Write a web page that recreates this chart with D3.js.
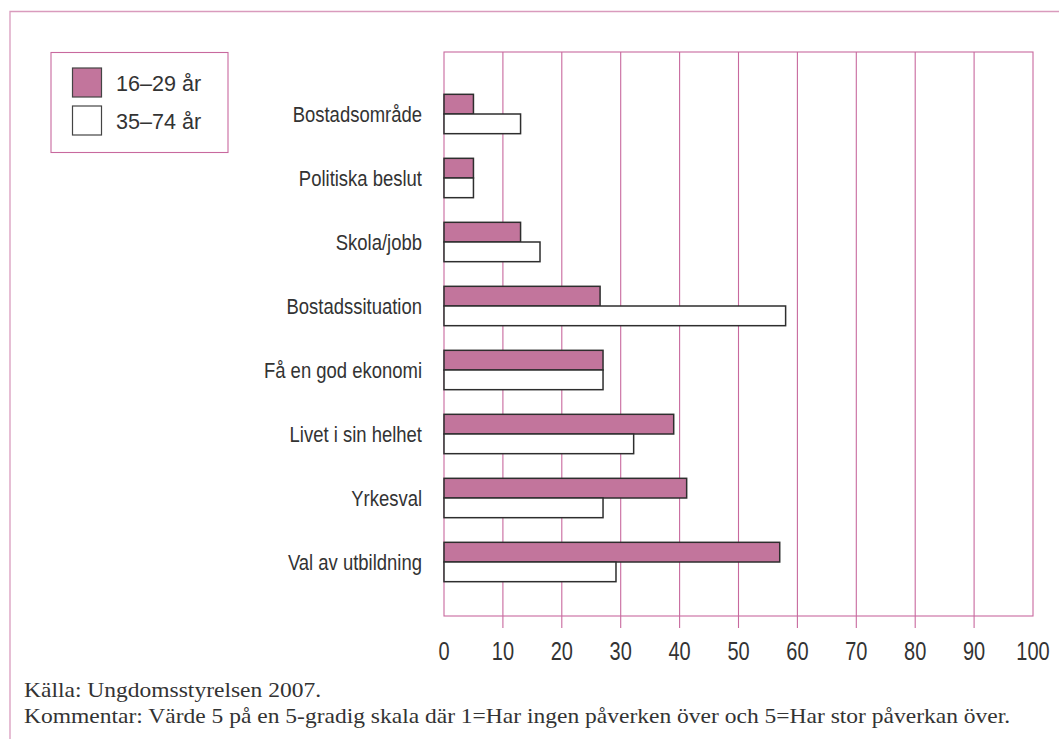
<!DOCTYPE html>
<html>
<head>
<meta charset="utf-8">
<script src="https://cdn.jsdelivr.net/npm/d3@7"></script>
<style>
  html, body { margin: 0; padding: 0; background: #fff; }
  svg { display: block; }
</style>
</head>
<body>
<svg id="chart" width="1059" height="739"></svg>
<script>
const categories = ["Bostadsområde", "Politiska beslut", "Skola/jobb", "Bostadssituation",
  "Få en god ekonomi", "Livet i sin helhet", "Yrkesval", "Val av utbildning"];
const seriesNames = ["16–29 år", "35–74 år"];
const young = [5, 5, 13, 26.5, 27, 39, 41.2, 57];
const older = [13, 5, 16.3, 58, 27, 32.2, 27, 29.2];
const xTicks = [0, 10, 20, 30, 40, 50, 60, 70, 80, 90, 100];
const sourceText = "Källa: Ungdomsstyrelsen 2007.";
const commentText = "Kommentar: Värde 5 på en 5-gradig skala där 1=Har ingen påverken över och 5=Har stor påverkan över.";

const colors = ["#c2759c", "#ffffff"];
const pink = "#c8699e";
const textColor = "#333333";
const sans = "'Liberation Sans', Arial, sans-serif";

const svg = d3.select("#chart");

// outer frame (top + left edges)
svg.append("path")
  .attr("d", "M10,739 V11.5 H1059")
  .attr("fill", "none").attr("stroke", "#d99bbd").attr("stroke-width", 1.3);

const plot = { left: 444, right: 1033, top: 52, bottom: 616 };

const x = d3.scaleLinear().domain([0, 100]).range([plot.left, plot.right]);
const y = d3.scaleBand().domain(categories).range([82, 594]).paddingInner(0.385).paddingOuter(0.1925);
const ySub = d3.scaleBand().domain([0, 1]).range([0, y.bandwidth()]);

// grid lines and ticks
const g = svg.append("g");
g.selectAll("line.grid")
  .data(xTicks.filter(t => t > 0 && t < 100))
  .join("line")
  .attr("class", "grid")
  .attr("x1", d => x(d)).attr("x2", d => x(d))
  .attr("y1", plot.top).attr("y2", plot.bottom + 12)
  .attr("stroke", pink).attr("stroke-width", 1.1);

// plot frame
g.append("rect")
  .attr("x", plot.left).attr("y", plot.top)
  .attr("width", plot.right - plot.left).attr("height", plot.bottom - plot.top)
  .attr("fill", "none").attr("stroke", pink).attr("stroke-width", 1.1);

// tick labels
g.selectAll("g.tl")
  .data(xTicks)
  .join("g")
  .attr("class", "tl")
  .attr("transform", d => `translate(${x(d)},660) scale(0.8,1)`)
  .append("text")
  .attr("text-anchor", "middle")
  .attr("font-family", sans).attr("font-size", 25)
  .attr("fill", textColor)
  .text(d => d);

// bars
const series = [young, older];
series.forEach((vals, si) => {
  g.selectAll(`rect.s${si}`)
    .data(categories)
    .join("rect")
    .attr("class", `s${si}`)
    .attr("x", plot.left)
    .attr("y", (d) => y(d) + ySub(si))
    .attr("width", (d, i) => x(vals[i]) - x(0))
    .attr("height", ySub.bandwidth())
    .attr("fill", colors[si])
    .attr("stroke", "#2e2e2e").attr("stroke-width", 1.5);
});

// category labels
g.selectAll("g.cl")
  .data(categories)
  .join("g")
  .attr("class", "cl")
  .attr("transform", d => `translate(${plot.left - 22},${y(d) + y.bandwidth() / 2}) scale(0.84,1)`)
  .append("text")
  .attr("text-anchor", "end")
  .attr("dy", "0.36em")
  .attr("font-family", sans).attr("font-size", 22)
  .attr("fill", textColor)
  .text(d => d);

// legend
const lg = svg.append("g");
lg.append("rect")
  .attr("x", 51).attr("y", 52.5).attr("width", 177).attr("height", 100)
  .attr("fill", "none").attr("stroke", pink).attr("stroke-width", 1.1);
seriesNames.forEach((name, i) => {
  lg.append("rect")
    .attr("x", 72.5).attr("y", 68 + i * 38).attr("width", 29).attr("height", 29)
    .attr("fill", colors[i]).attr("stroke", "#444").attr("stroke-width", 1.2);
  lg.append("g")
    .attr("transform", `translate(116,${91 + i * 38}) scale(0.98,1)`)
    .append("text")
    .attr("font-family", sans).attr("font-size", 22)
    .attr("fill", textColor)
    .text(name);
});

// footer
const serif = "'Liberation Serif', 'Times New Roman', serif";
[sourceText, commentText].forEach((t, i) => {
  svg.append("g")
    .attr("transform", `translate(24,${697 + i * 26}) scale(1.12,1)`)
    .append("text")
    .attr("font-family", serif).attr("font-size", 21)
    .attr("fill", textColor)
    .text(t);
});
</script>
</body>
</html>
